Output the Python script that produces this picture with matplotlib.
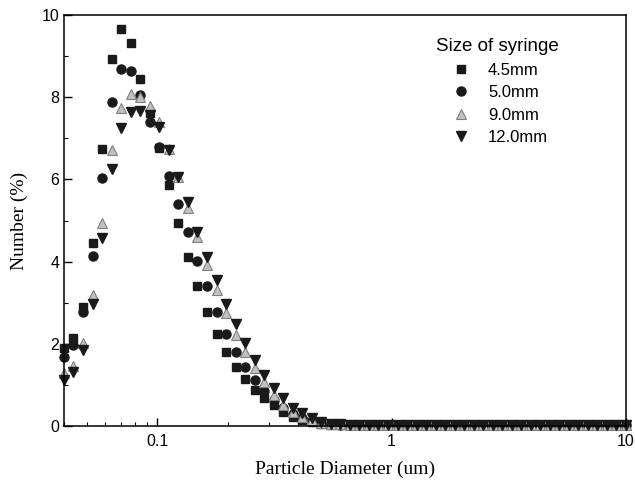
import matplotlib.pyplot as plt
import numpy as np

# particle size bins (um), shared by all four runs
diameter = [0.0400, 0.0439, 0.0482, 0.0530, 0.0582, 0.0639, 0.0701, 0.0770, 0.0846, 0.0929,
            0.102, 0.112, 0.123, 0.135, 0.148, 0.163, 0.179, 0.196, 0.216, 0.237,
            0.260, 0.286, 0.314, 0.344, 0.378, 0.415, 0.456, 0.501, 0.550, 0.604,
            0.663, 0.728, 0.799, 0.878, 0.964,
            1.06, 1.16, 1.28, 1.40, 1.54, 1.69, 1.86, 2.04, 2.24, 2.46,
            2.70, 2.96, 3.25, 3.57, 3.92, 4.31, 4.73, 5.19, 5.70, 6.26,
            6.88, 7.55, 8.29, 9.11, 10.0]

# number distribution (%) for each syringe size
n_45 = [1.90, 2.13, 2.90, 4.46, 6.73, 8.92, 9.66, 9.33, 8.45, 7.62,
        6.76, 5.86, 4.95, 4.12, 3.41, 2.77, 2.25, 1.81, 1.43, 1.14,
        0.88, 0.68, 0.50, 0.35, 0.23, 0.15, 0.09, 0.05, 0.03, 0.03,
        0.02, 0.03, 0.02, 0.02, 0.03, 0.02, 0.03, 0.02, 0.02, 0.03,
        0.02, 0.02, 0.03, 0.02, 0.03, 0.02, 0.02, 0.03, 0.02, 0.02,
        0.03, 0.02, 0.02, 0.03, 0.02, 0.03, 0.02, 0.02, 0.03, 0.03]
n_50 = [1.69, 1.98, 2.78, 4.14, 6.04, 7.89, 8.70, 8.64, 8.05, 7.40,
        6.80, 6.09, 5.40, 4.71, 4.01, 3.41, 2.77, 2.25, 1.81, 1.43,
        1.12, 0.85, 0.63, 0.45, 0.30, 0.19, 0.12, 0.07, 0.04, 0.03,
        0.03, 0.02, 0.03, 0.02, 0.02, 0.03, 0.02, 0.03, 0.02, 0.02,
        0.03, 0.02, 0.02, 0.03, 0.02, 0.02, 0.03, 0.02, 0.03, 0.02,
        0.02, 0.03, 0.02, 0.02, 0.03, 0.02, 0.02, 0.03, 0.02, 0.03]
n_90 = [1.29, 1.47, 2.01, 3.19, 4.93, 6.72, 7.73, 8.07, 8.01, 7.79,
        7.40, 6.75, 6.05, 5.30, 4.60, 3.92, 3.32, 2.74, 2.21, 1.81,
        1.40, 1.08, 0.75, 0.51, 0.35, 0.22, 0.14, 0.07, 0.05, 0.04,
        0.03, 0.03, 0.02, 0.03, 0.02, 0.03, 0.02, 0.02, 0.03, 0.02,
        0.03, 0.02, 0.03, 0.02, 0.02, 0.03, 0.02, 0.03, 0.02, 0.03,
        0.02, 0.02, 0.03, 0.02, 0.03, 0.02, 0.03, 0.02, 0.02, 0.03]
n_120 = [1.12, 1.32, 1.85, 2.96, 4.58, 6.25, 7.26, 7.65, 7.67, 7.57,
         7.27, 6.72, 6.05, 5.45, 4.71, 4.12, 3.55, 2.98, 2.49, 2.01,
         1.61, 1.24, 0.92, 0.67, 0.45, 0.31, 0.20, 0.10, 0.06, 0.04,
         0.03, 0.03, 0.02, 0.02, 0.03, 0.02, 0.03, 0.02, 0.03, 0.02,
         0.02, 0.03, 0.02, 0.03, 0.02, 0.03, 0.02, 0.02, 0.03, 0.02,
         0.03, 0.02, 0.03, 0.02, 0.02, 0.03, 0.02, 0.03, 0.02, 0.03]

labels = ['4.5mm', '5.0mm', '9.0mm', '12.0mm']

plt.rcParams['font.family'] = ['Liberation Sans', 'DejaVu Sans']

fig = plt.figure(figsize=(6.35, 4.8), dpi=100)
ax = fig.add_axes([0.1008, 0.1125, 0.885, 0.856])

# draw each run as a marker-only series
ax.plot(diameter, n_45, 's', color='#1a1a1a', markersize=6, label=labels[0], clip_on=False)
ax.plot(diameter, n_50, 'o', color='#1a1a1a', markersize=6.5, label=labels[1], clip_on=False)
ax.plot(diameter, n_90, '^', markerfacecolor='#c0c0c0', markeredgecolor='#808080',
        markeredgewidth=0.8, markersize=6.5, label=labels[2], clip_on=False)
ax.plot(diameter, n_120, 'v', color='#1a1a1a', markersize=7, label=labels[3], clip_on=False)

ax.set_xscale('log')
ax.set_xlim(0.04, 10)
ax.set_ylim(0, 10)
ax.set_xticks([0.1, 1, 10])
ax.set_xticklabels(['0.1', '1', '10'])
ax.set_yticks(np.arange(0, 11, 2))
ax.set_yticks(np.arange(1, 10, 2), minor=True)

ax.tick_params(which='both', direction='in', top=False, right=False, labelsize=11.5)
ax.tick_params(which='major', length=6, width=1)
ax.tick_params(which='minor', length=3, width=0.8)
ax.tick_params(axis='x', pad=6)
for s in ax.spines.values():
    s.set_linewidth(1.1)

ax.set_xlabel('Particle Diameter (um)', family='Liberation Serif', fontsize=14, labelpad=8)
ax.set_ylabel('Number (%)', family='Liberation Serif', fontsize=14, labelpad=10)

leg = ax.legend(title='Size of syringe', loc='upper left', bbox_to_anchor=(0.65, 0.96),
                frameon=False, fontsize=12, title_fontsize=13.5, labelspacing=0.45,
                handletextpad=0.7, handlelength=1.8, borderaxespad=0)

fig.savefig('out.png', dpi=100)
